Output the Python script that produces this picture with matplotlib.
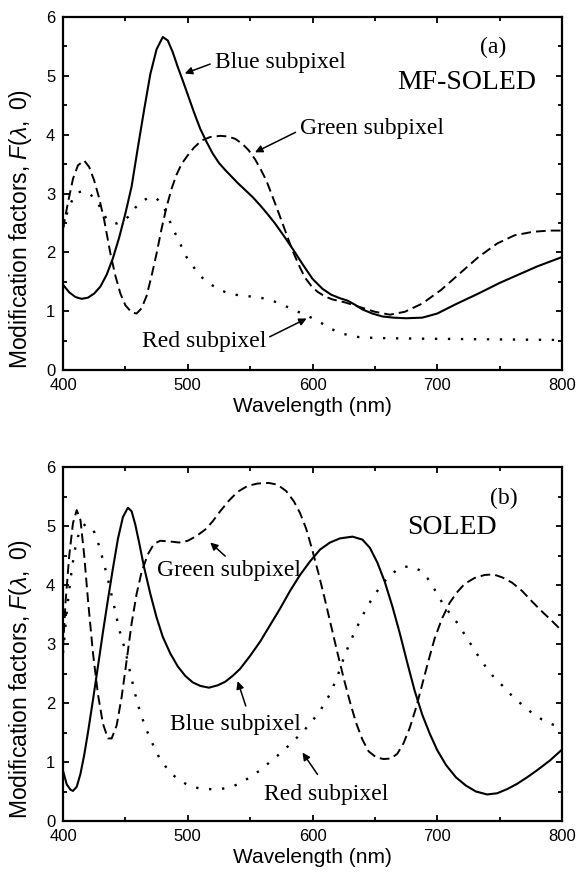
import matplotlib.pyplot as plt
from matplotlib.ticker import MultipleLocator

# (a) MF-SOLED
a_blue_wl = [400, 405, 410, 415, 420, 425, 430, 435, 440, 445, 450, 455, 460, 465, 470, 475, 480, 484,
             488, 492, 496, 500, 505, 510, 515, 520, 525, 530, 535, 540, 546, 552, 558, 564, 570, 578,
             585, 592, 600, 608, 615, 622, 628, 634, 640, 648, 656, 665, 675, 688, 700, 715, 733, 750,
             765, 780, 800]
a_blue = [1.45, 1.32, 1.24, 1.21, 1.23, 1.30, 1.42, 1.62, 1.90, 2.25, 2.66, 3.12, 3.78, 4.42, 5.03, 5.45,
          5.66, 5.60, 5.40, 5.15, 4.92, 4.68, 4.38, 4.10, 3.88, 3.68, 3.52, 3.40, 3.29, 3.18, 3.06, 2.94,
          2.80, 2.65, 2.49, 2.25, 2.03, 1.80, 1.55, 1.38, 1.28, 1.22, 1.18, 1.11, 1.03, 0.96, 0.91, 0.89,
          0.88, 0.89, 0.96, 1.12, 1.30, 1.48, 1.62, 1.76, 1.92]

a_green_wl = [400, 404, 408, 412, 417, 421, 425, 429, 433, 438, 442, 446, 450, 455, 459, 463, 467, 471,
              475, 479, 483, 487, 491, 495, 500, 505, 511, 518, 526, 532, 538, 544, 549, 554, 558, 563,
              567, 572, 576, 581, 585, 590, 594, 599, 604, 610, 616, 626, 638, 650, 662, 674, 688, 703,
              718, 733, 748, 762, 777, 790, 800]
a_green = [2.40, 2.85, 3.25, 3.48, 3.56, 3.45, 3.22, 2.92, 2.55, 1.98, 1.60, 1.30, 1.10, 0.98, 0.96,
           1.05, 1.26, 1.60, 1.98, 2.40, 2.77, 3.08, 3.32, 3.50, 3.65, 3.78, 3.90, 3.96, 3.98, 3.97,
           3.93, 3.84, 3.73, 3.58, 3.43, 3.22, 3.00, 2.72, 2.49, 2.20, 1.98, 1.74, 1.57, 1.43, 1.33,
           1.25, 1.20, 1.15, 1.07, 0.99, 0.94, 0.99, 1.13, 1.36, 1.64, 1.92, 2.15, 2.29, 2.35, 2.37, 2.37]

a_red_wl = [400, 404, 408, 412, 416, 420, 425, 430, 434, 438, 443, 448, 452, 458, 464, 469, 473, 477,
            481, 485, 490, 495, 499, 505, 511, 518, 526, 533, 541, 555, 563, 570, 578, 585, 593, 600,
            607, 614, 621, 629, 637, 644, 660, 700, 750, 800]
a_red = [2.43, 2.72, 2.92, 3.02, 3.04, 3.01, 2.93, 2.76, 2.60, 2.52, 2.49, 2.53, 2.60, 2.76, 2.88, 2.93,
         2.94, 2.88, 2.76, 2.56, 2.32, 2.10, 1.92, 1.74, 1.58, 1.46, 1.36, 1.30, 1.27, 1.24, 1.21, 1.16,
         1.09, 1.02, 0.95, 0.88, 0.80, 0.71, 0.64, 0.59, 0.56, 0.55, 0.54, 0.53, 0.52, 0.51]

# (b) SOLED
b_blue_wl = [400, 403, 406, 408, 411, 414, 417, 420, 424, 428, 432, 436, 440, 444, 448, 452, 455, 458,
             461, 465, 470, 475, 480, 486, 492, 498, 504, 510, 517, 524, 530, 536, 542, 550, 558, 566,
             574, 582, 590, 598, 606, 614, 622, 632, 640, 646, 652, 658, 664, 670, 676, 682, 688, 694,
             700, 707, 715, 723, 731, 740, 748, 756, 764, 772, 780, 790, 800]
b_blue = [0.85, 0.62, 0.53, 0.51, 0.58, 0.80, 1.12, 1.50, 2.05, 2.62, 3.20, 3.75, 4.28, 4.78, 5.15, 5.31,
          5.25, 5.02, 4.72, 4.30, 3.85, 3.45, 3.12, 2.84, 2.62, 2.46, 2.35, 2.29, 2.26, 2.30, 2.36, 2.46,
          2.58, 2.80, 3.04, 3.32, 3.60, 3.90, 4.17, 4.40, 4.60, 4.72, 4.79, 4.82, 4.77, 4.63, 4.38, 4.05,
          3.64, 3.18, 2.68, 2.20, 1.80, 1.48, 1.20, 0.95, 0.74, 0.60, 0.50, 0.45, 0.47, 0.54, 0.63, 0.74,
          0.86, 1.02, 1.21]

b_green_wl = [400, 402, 405, 408, 411, 414, 417, 420, 424, 428, 432, 436, 439, 443, 447, 451, 455, 459,
              463, 468, 473, 478, 485, 493, 500, 507, 514, 520, 526, 533, 540, 548, 556, 565, 572, 579,
              585, 590, 595, 600, 605, 610, 615, 620, 625, 630, 635, 640, 645, 651, 657, 663, 668, 673,
              678, 683, 688, 693, 698, 704, 710, 716, 722, 730, 738, 745, 752, 760, 768, 776, 784, 792, 800]
b_green = [2.94, 3.70, 4.50, 5.05, 5.27, 5.10, 4.50, 3.75, 2.85, 2.15, 1.65, 1.40, 1.40, 1.62, 2.10,
           2.72, 3.35, 3.85, 4.22, 4.52, 4.70, 4.75, 4.74, 4.72, 4.75, 4.83, 4.94, 5.08, 5.25, 5.43, 5.58,
           5.68, 5.72, 5.73, 5.70, 5.59, 5.42, 5.22, 4.95, 4.58, 4.18, 3.75, 3.30, 2.85, 2.42, 2.02, 1.66,
           1.38, 1.18, 1.08, 1.05, 1.06, 1.14, 1.32, 1.58, 1.92, 2.32, 2.72, 3.10, 3.44, 3.70, 3.88, 4.02,
           4.12, 4.17, 4.18, 4.13, 4.04, 3.90, 3.72, 3.55, 3.39, 3.22]

b_red_wl = [400, 403, 406, 409, 412, 415, 418, 421, 425, 429, 433, 437, 441, 445, 450, 454, 458, 462,
            467, 472, 477, 482, 487, 494, 502, 510, 517, 525, 532, 540, 549, 558, 567, 576, 585, 593,
            600, 607, 614, 620, 626, 632, 638, 644, 650, 656, 662, 668, 674, 680, 686, 692, 698, 704,
            710, 716, 722, 728, 734, 740, 746, 752, 760, 768, 776, 784, 792, 800]
b_red = [2.85, 3.55, 4.10, 4.55, 4.82, 4.98, 5.03, 5.00, 4.90, 4.66, 4.35, 4.01, 3.64, 3.25, 2.88, 2.50,
         2.14, 1.83, 1.54, 1.30, 1.08, 0.93, 0.80, 0.68, 0.59, 0.55, 0.54, 0.54, 0.56, 0.62, 0.73, 0.86,
         1.02, 1.18, 1.36, 1.53, 1.70, 1.90, 2.15, 2.45, 2.82, 3.12, 3.39, 3.64, 3.84, 4.02, 4.16, 4.26,
         4.31, 4.31, 4.25, 4.12, 3.92, 3.70, 3.52, 3.36, 3.16, 2.96, 2.76, 2.58, 2.42, 2.30, 2.12, 1.97,
         1.83, 1.72, 1.64, 1.58]

serif = 'Liberation Serif'
sans = 'Liberation Sans'

DASH = (0, (5, 2.6))
DOT = (0, (1.0, 4.5))


def style_axes(ax):
    ax.set_xlim(400, 800)
    ax.set_ylim(0, 6)
    ax.xaxis.set_major_locator(MultipleLocator(100))
    ax.xaxis.set_minor_locator(MultipleLocator(50))
    ax.yaxis.set_major_locator(MultipleLocator(1))
    ax.yaxis.set_minor_locator(MultipleLocator(0.5))
    ax.tick_params(which='both', direction='in', top=True, right=True, width=1.3)
    ax.tick_params(which='major', length=4.5, pad=5.5, labelsize=12)
    ax.tick_params(which='minor', length=2.6)
    for lab in ax.get_xticklabels() + ax.get_yticklabels():
        lab.set_fontfamily(sans)
    for sp in ax.spines.values():
        sp.set_linewidth(1.6)
    ax.set_xlabel('Wavelength (nm)', fontsize=15, fontfamily=sans, labelpad=3)
    ax.set_ylabel(r'Modification factors, $\mathit{F}(\lambda,\ 0)$', fontsize=16.5,
                  fontfamily=sans, labelpad=5)
    ax.yaxis.set_label_coords(-0.058, 0.40)


def arrow(ax, text, xy, xytext, tx, ty):
    ax.annotate('', xy=xy, xytext=xytext,
                arrowprops=dict(arrowstyle='-|>', color='black', lw=1.1,
                                mutation_scale=11, shrinkA=0, shrinkB=0))
    ax.text(tx, ty, text, fontsize=17, fontfamily=serif, ha='left', va='center')


plt.rcParams['mathtext.fontset'] = 'custom'
plt.rcParams['mathtext.rm'] = sans
plt.rcParams['mathtext.it'] = sans + ':italic'

fig = plt.figure(figsize=(5.77, 8.81), dpi=100)
ax1 = fig.add_axes([0.1092, 0.5800, 0.8648, 0.4007])
ax2 = fig.add_axes([0.1092, 0.0681, 0.8648, 0.4018])

ax1.plot(a_blue_wl, a_blue, color='black', lw=1.5)
ax1.plot(a_green_wl, a_green, color='black', lw=1.4, linestyle=DASH)
ax1.plot(a_red_wl, a_red, color='black', lw=1.7, linestyle=DOT)
style_axes(ax1)
ax1.text(745, 5.48, '(a)', fontsize=17, fontfamily=serif, ha='center', va='center')
ax1.text(724, 4.89, 'MF-SOLED', fontsize=20, fontfamily=serif, ha='center', va='center')
arrow(ax1, 'Blue subpixel', (497.6, 5.04), (518, 5.2), 522, 5.23)
arrow(ax1, 'Green subpixel', (553.9, 3.70), (586.4, 4.04), 590, 4.10)
arrow(ax1, 'Red subpixel', (595.3, 0.876), (565.7, 0.565), 463, 0.48)

ax2.plot(b_blue_wl, b_blue, color='black', lw=1.5)
ax2.plot(b_green_wl, b_green, color='black', lw=1.4, linestyle=DASH)
ax2.plot(b_red_wl, b_red, color='black', lw=1.7, linestyle=DOT)
style_axes(ax2)
ax2.text(753.6, 5.46, '(b)', fontsize=17, fontfamily=serif, ha='center', va='center')
ax2.text(712, 4.97, 'SOLED', fontsize=20, fontfamily=serif, ha='center', va='center')
arrow(ax2, 'Green subpixel', (518, 4.72), (530, 4.49), 475, 4.24)
arrow(ax2, 'Blue subpixel', (540, 2.37), (546.5, 1.95), 486, 1.64)
arrow(ax2, 'Red subpixel', (592, 1.16), (604, 0.79), 561, 0.45)

fig.savefig('out.png', dpi=100)
